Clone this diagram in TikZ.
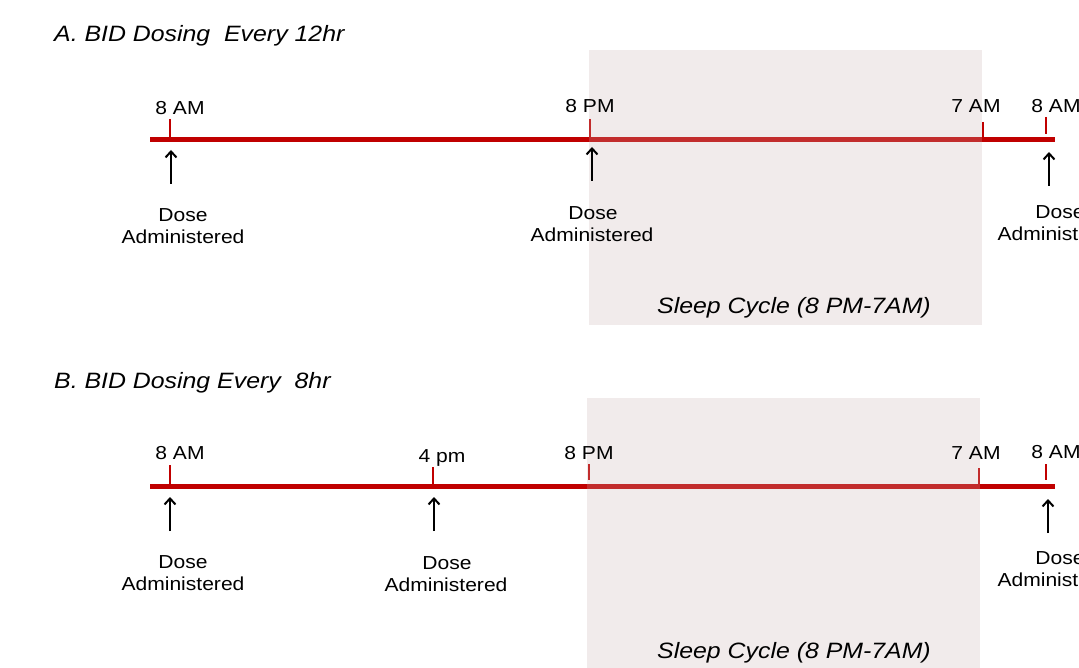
\documentclass[tikz,border=0pt]{standalone}
\usepackage{fontspec}
\setmainfont[FakeStretch=1.12]{Liberation Sans}
\usetikzlibrary{arrows.meta}
\definecolor{tlred}{HTML}{C00000}
\definecolor{shade}{HTML}{CBB0B0}
\tikzset{
  lbl/.style={anchor=base, inner sep=0pt, font=\fontsize{18.8}{22}\selectfont},
  ttl/.style={anchor=base west, inner sep=0pt, font=\fontsize{22.2}{26}\selectfont\itshape},
  sleeplbl/.style={anchor=base, inner sep=0pt, font=\fontsize{22.2}{26}\selectfont\itshape},
  timeline/.style={draw=tlred, line width=5pt},
  tickmark/.style={draw=tlred, line width=2.6pt},
  dosearrow/.style={draw=black, line width=2pt, -{Straight Barb[length=6pt,width=11pt,line width=2pt]}},
  sleepbox/.style={fill=shade, fill opacity=0.25, draw=none}
}
\begin{document}
\begin{tikzpicture}[x=1pt,y=-1pt]
\useasboundingbox (0,0) rectangle (1079,668);
\clip (0,0) rectangle (1079,668);
\fill[white] (0,0) rectangle (1079,668);

% ---------------- Panel A ----------------
\node[ttl] (titleA) at (54,42) {A. BID Dosing\ \ Every 12hr};
\coordinate (a0) at (150,140);
\coordinate (a1) at (1055,140);
\draw[timeline] (a0) -- (a1);
\draw[tickmark] (170,119) -- (170,140);
\draw[tickmark] (590,119) -- (590,140);
\draw[tickmark] (983,122) -- (983,140);
\draw[tickmark] (1046,117) -- (1046,134);
\fill[sleepbox] (589,50) rectangle (982,325);

\node[lbl] (aL1) at (180,115) {8 AM};
\node[lbl] (aL2) at (590,113) {8 PM};
\node[lbl] (aL3) at (976,113) {7 AM};
\node[lbl] (aL4) at (1056,113) {8 AM};

\coordinate (aA1s) at (171,184); \coordinate (aA1e) at (171,150);
\coordinate (aA2s) at (592,181); \coordinate (aA2e) at (592,147);
\coordinate (aA3s) at (1049,186); \coordinate (aA3e) at (1049,152);
\draw[dosearrow] (aA1s) -- (aA1e);
\draw[dosearrow] (aA2s) -- (aA2e);
\draw[dosearrow] (aA3s) -- (aA3e);

\node[lbl] (aD1) at (183,222) {Dose};
\node[lbl] (aM1) at (183,244) {Administered};
\node[lbl] (aD2) at (593,220) {Dose};
\node[lbl] (aM2) at (592,242) {Administered};
\node[lbl] (aD3) at (1060,219) {Dose};
\node[lbl] (aM3) at (1059,241) {Administered};

\node[sleeplbl] (sleepA) at (794,313) {Sleep Cycle (8 PM-7AM)};

% ---------------- Panel B ----------------
\node[ttl] (titleB) at (54,388) {B. BID Dosing Every\ \ 8hr};
\coordinate (b0) at (150,486);
\coordinate (b1) at (1055,486);
\draw[timeline] (b0) -- (b1);
\draw[tickmark] (170,465) -- (170,486);
\draw[tickmark] (433,467) -- (433,486);
\draw[tickmark] (589,464) -- (589,480);
\draw[tickmark] (979,468) -- (979,486);
\draw[tickmark] (1046,464) -- (1046,480);
\fill[sleepbox] (587,398) rectangle (980,668);

\node[lbl] (bL1) at (180,459) {8 AM};
\node[lbl] (bL2) at (442,462) {4 pm};
\node[lbl] (bL3) at (589,459) {8 PM};
\node[lbl] (bL4) at (976,459) {7 AM};
\node[lbl] (bL5) at (1056,458) {8 AM};

\coordinate (bA1s) at (170,531); \coordinate (bA1e) at (170,497);
\coordinate (bA2s) at (434,531); \coordinate (bA2e) at (434,497);
\coordinate (bA3s) at (1048,533); \coordinate (bA3e) at (1048,499);
\draw[dosearrow] (bA1s) -- (bA1e);
\draw[dosearrow] (bA2s) -- (bA2e);
\draw[dosearrow] (bA3s) -- (bA3e);

\node[lbl] (bD1) at (183,568) {Dose};
\node[lbl] (bM1) at (183,590) {Administered};
\node[lbl] (bD2) at (447,569) {Dose};
\node[lbl] (bM2) at (446,591) {Administered};
\node[lbl] (bD3) at (1060,564) {Dose};
\node[lbl] (bM3) at (1059,586) {Administered};

\node[sleeplbl] (sleepB) at (794,658) {Sleep Cycle (8 PM-7AM)};
\end{tikzpicture}
\end{document}
